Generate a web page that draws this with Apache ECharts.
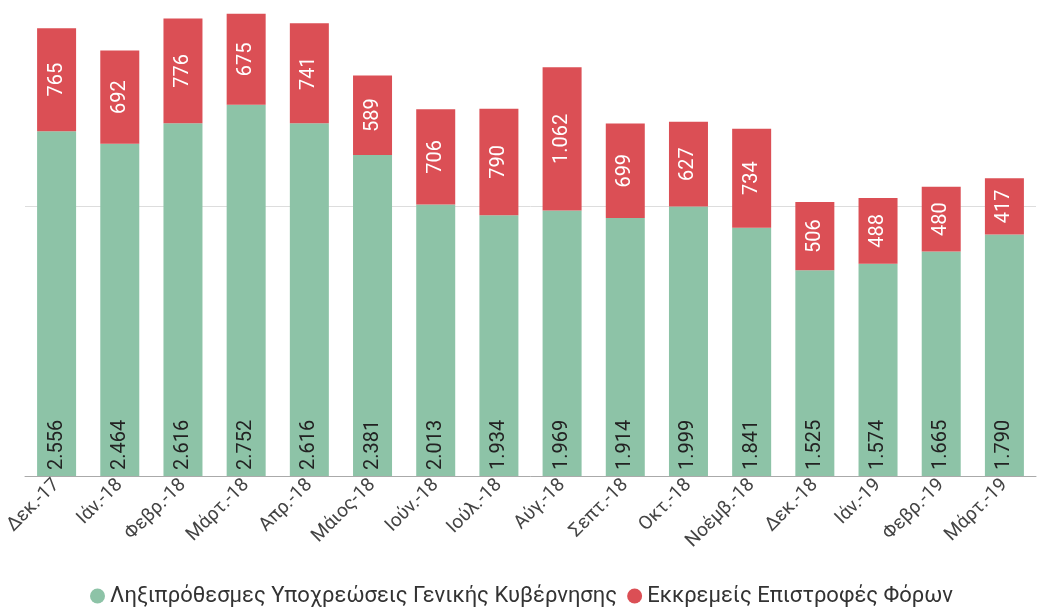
<!DOCTYPE html>
<html><head><meta charset="utf-8">
<script src="https://cdn.jsdelivr.net/npm/echarts@6/dist/echarts.min.js"></script>
<style>html,body{margin:0;padding:0;background:#fff}#c{width:1043px;height:612px}</style>
</head><body><div id="c"></div>
<script>
const categories = ['Δεκ.-17','Ιάν.-18','Φεβρ.-18','Μάρτ.-18','Απρ.-18','Μάιος-18','Ιούν.-18','Ιούλ.-18','Αύγ.-18','Σεπτ.-18','Οκτ.-18','Νοέμβ.-18','Δεκ.-18','Ιάν.-19','Φεβρ.-19','Μάρτ.-19'];
const arrears = [2556,2464,2616,2752,2616,2381,2013,1934,1969,1914,1999,1841,1525,1574,1665,1790];
const refunds = [765,692,776,675,741,589,706,790,1062,699,627,734,506,488,480,417];
const seriesNames = ['Ληξιπρόθεσμες Υποχρεώσεις Γενικής Κυβέρνησης','Εκκρεμείς Επιστροφές Φόρων'];

const fmt = v => String(v).replace(/\B(?=(\d{3})+(?!\d))/g, '.');
const chart = echarts.init(document.getElementById('c'));
chart.setOption({
  animation: false,
  textStyle: {fontFamily: 'Roboto'},
  grid: {left: 25, right: 7, top: 4, bottom: 136},
  legend: {
    bottom: 0, left: 'center', icon: 'circle', itemWidth: 15, itemHeight: 15, itemGap: 10,
    textStyle: {fontSize: 22, color: '#333', fontFamily: 'Roboto'},
    data: seriesNames
  },
  xAxis: {
    type: 'category', data: categories,
    axisLine: {lineStyle: {color: '#aaa'}},
    axisTick: {show: false},
    axisLabel: {rotate: 45, fontSize: 19, color: '#444', interval: 0, margin: 6}
  },
  yAxis: {
    type: 'value', min: 0, max: 3500, interval: 2000,
    axisLabel: {show: false},
    axisLine: {show: false}, axisTick: {show: false},
    splitLine: {showMaxLine: false, lineStyle: {color: '#ddd'}}
  },
  series: [
    {
      name: seriesNames[0], type: 'bar', stack: 's', data: arrears, barWidth: 39,
      itemStyle: {color: '#8dc3a7'},
      label: {show: true, position: 'insideBottom', align: 'left', verticalAlign: 'middle',
        distance: 6, color: '#222', fontSize: 20, formatter: p => fmt(p.value)},
      labelLayout: {rotate: 90}
    },
    {
      name: seriesNames[1], type: 'bar', stack: 's', data: refunds, barWidth: 39,
      itemStyle: {color: '#db4f55'},
      label: {show: true, position: 'inside', color: '#fff', fontSize: 20,
        formatter: p => fmt(p.value)},
      labelLayout: {rotate: 90}
    }
  ]
});
</script></body></html>
